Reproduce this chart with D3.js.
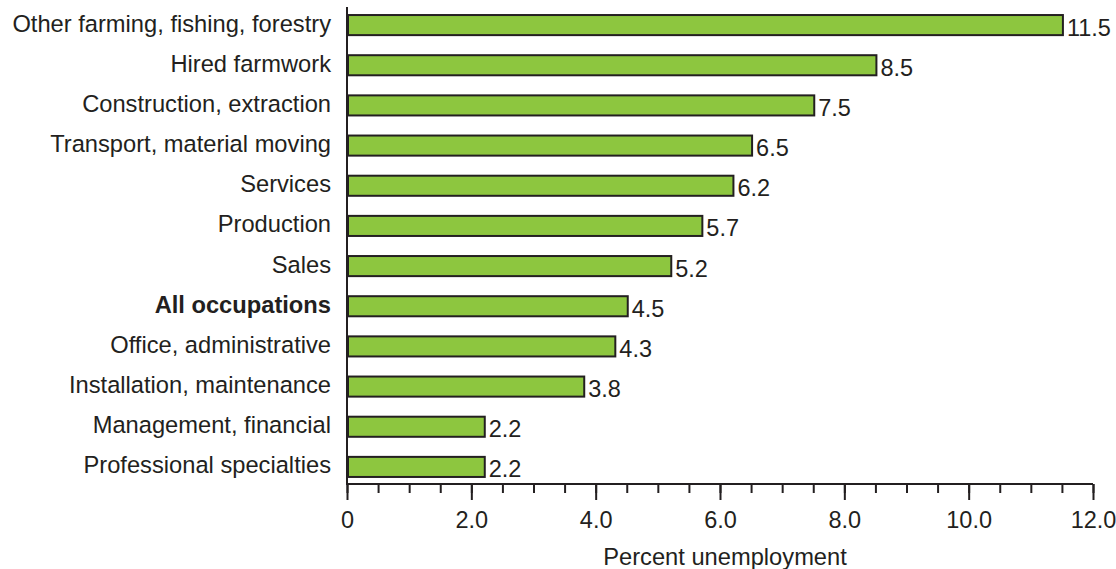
<!DOCTYPE html>
<html>
<head>
<meta charset="utf-8">
<script src="https://cdn.jsdelivr.net/npm/d3@7"></script>
<style>
  html, body { margin: 0; padding: 0; background: #fff; }
  svg { display: block; }
  text { font-family: "Liberation Sans", Arial, Helvetica, sans-serif; fill: #231f20; }
</style>
</head>
<body>
<svg id="chart" width="1116" height="569"></svg>
<script>
const categories = [
  "Other farming, fishing, forestry",
  "Hired farmwork",
  "Construction, extraction",
  "Transport, material moving",
  "Services",
  "Production",
  "Sales",
  "All occupations",
  "Office, administrative",
  "Installation, maintenance",
  "Management, financial",
  "Professional specialties"
];
const values = [11.5, 8.5, 7.5, 6.5, 6.2, 5.7, 5.2, 4.5, 4.3, 3.8, 2.2, 2.2];
const boldCategories = ["All occupations"];
const majorTicks = [0, 2, 4, 6, 8, 10, 12];
const majorTickLabels = ["0", "2.0", "4.0", "6.0", "8.0", "10.0", "12.0"];
const minorTicks = d3.range(0, 12.01, 0.5);
const xTitle = "Percent unemployment";

const data = categories.map((c, i) => ({ cat: c, value: values[i] }));

const svg = d3.select("#chart");
const x0 = 347, x1 = 1093, axisY = 484;

const x = d3.scaleLinear().domain([0, 12]).range([x0, x1]);
const y = d3.scaleBand().domain(categories).range([5, 487]).paddingInner(0.5).paddingOuter(0.25);

// bars
svg.append("g").selectAll("rect").data(data).join("rect")
  .attr("x", x(0) + 1)
  .attr("y", d => y(d.cat))
  .attr("width", d => x(d.value) - x(0))
  .attr("height", y.bandwidth())
  .attr("fill", "#8dc63f")
  .attr("stroke", "#231f20")
  .attr("stroke-width", 2);

// value labels
svg.append("g").selectAll("text").data(data).join("text")
  .attr("x", d => x(d.value) + 5)
  .attr("y", d => y(d.cat) + y.bandwidth() / 2 + 10.5)
  .attr("font-size", 23.5)
  .text(d => d.value.toFixed(1));

// category labels
svg.append("g").selectAll("text").data(data).join("text")
  .attr("x", 331)
  .attr("y", d => y(d.cat) + y.bandwidth() / 2 + 6.5)
  .attr("text-anchor", "end")
  .attr("font-size", 23.7)
  .attr("font-weight", d => boldCategories.includes(d.cat) ? "bold" : "normal")
  .text(d => d.cat);

// left axis line
svg.append("line")
  .attr("x1", x0).attr("x2", x0)
  .attr("y1", 7).attr("y2", axisY + 1)
  .attr("stroke", "#231f20").attr("stroke-width", 2);

// x axis
const xAxisMinor = d3.axisBottom(x).tickValues(minorTicks).tickSize(9).tickFormat("");
const gMinor = svg.append("g").attr("transform", `translate(0,${axisY})`).call(xAxisMinor);
const xAxisMajor = d3.axisBottom(x).tickValues(majorTicks).tickSize(16).tickPadding(11)
  .tickFormat((d, i) => majorTickLabels[i]);
const gMajor = svg.append("g").attr("transform", `translate(0,${axisY})`).call(xAxisMajor);

[gMinor, gMajor].forEach(g => {
  g.select(".domain").attr("stroke", "#231f20").attr("stroke-width", 2)
    .attr("d", `M${x0},0H${x1}`);
  g.selectAll(".tick line").attr("stroke", "#231f20").attr("stroke-width", 2);
});
gMajor.selectAll(".tick text")
  .attr("font-size", 23.5)
  .attr("font-family", "'Liberation Sans', Arial, sans-serif")
  .attr("fill", "#231f20");

svg.append("text")
  .attr("x", (x0 + x1) / 2 + 5)
  .attr("y", 565)
  .attr("text-anchor", "middle")
  .attr("font-size", 23.7)
  .text(xTitle);
</script>
</body>
</html>
